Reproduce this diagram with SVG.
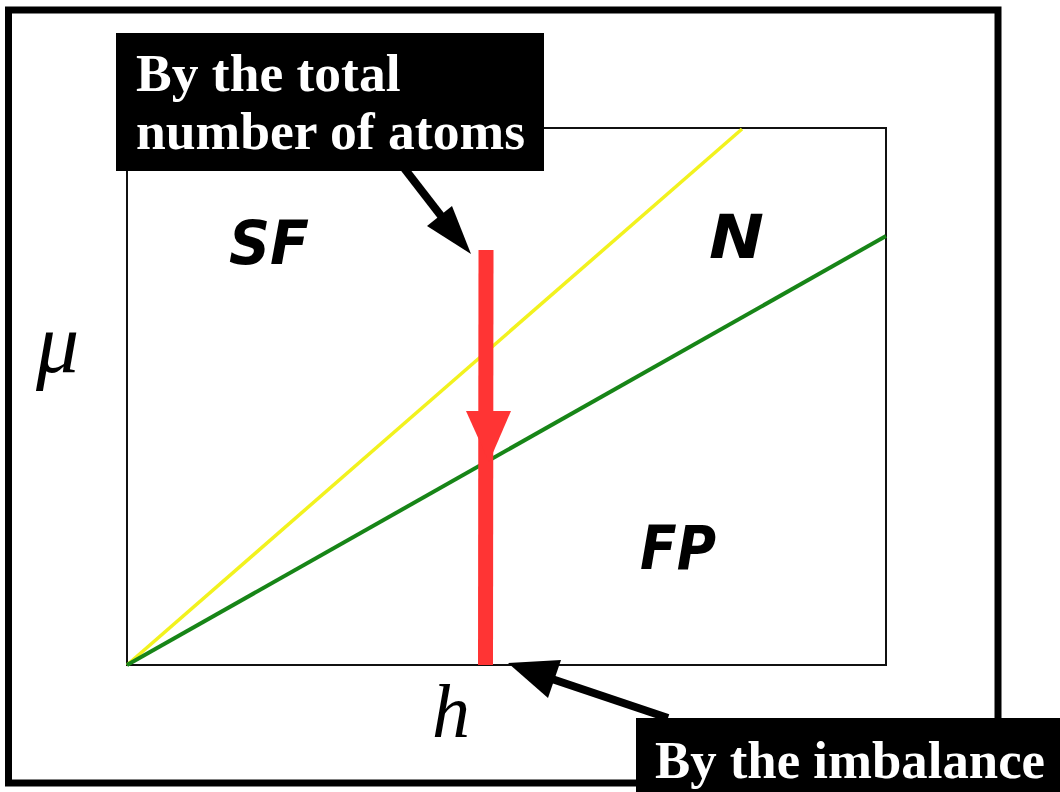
<svg xmlns="http://www.w3.org/2000/svg" width="1060" height="792" viewBox="0 0 1060 792">
<defs>
<style>
.callout{fill:#000}
.ctext{font-family:"Liberation Serif","Times New Roman",serif;font-weight:bold;font-size:53.5px;fill:#fff}
.region{font-family:"DejaVu Sans",sans-serif;font-weight:bold;font-style:oblique;font-size:60px;fill:#000}
.math{font-family:"Liberation Serif","Times New Roman",serif;font-style:italic;font-size:76px;fill:#000}
.arrow{stroke:#000;stroke-width:8;fill:none}
.head{fill:#000}
</style>
</defs>
<rect width="1060" height="792" fill="#fff"/>
<g id="frame"><rect x="8.5" y="10" width="989.5" height="773" fill="none" stroke="#000" stroke-width="7"/></g>
<g id="plot">
<rect x="127" y="128" width="759" height="537" fill="none" stroke="#111" stroke-width="2"/>
<line x1="127" y1="665" x2="742" y2="129" stroke="#f2f21e" stroke-width="3.5"/>
<line x1="127" y1="665" x2="886" y2="236" stroke="#178517" stroke-width="4"/>
</g>
<g id="region-SF"><text class="region" x="229" y="264" textLength="80" lengthAdjust="spacingAndGlyphs">SF</text></g>
<g id="region-N"><text class="region" x="709" y="258" textLength="55" lengthAdjust="spacingAndGlyphs">N</text></g>
<g id="region-FP"><text class="region" x="640" y="569" textLength="76" lengthAdjust="spacingAndGlyphs">FP</text></g>
<g id="axis-mu"><text class="math" x="36" y="372" style="font-size:86px">μ</text></g>
<g id="axis-h"><text class="math" x="432" y="737">h</text></g>
<g id="path-red">
<polygon points="478.5,250 493.5,250 493,665 478,665" fill="#ff3434"/>
<polygon points="466,411 511,411 489,462" fill="#ff3434"/>
</g>
<g id="callout-total">
<rect class="callout" x="116" y="33" width="428" height="138"/>
<text class="ctext" x="136" y="91">By the total</text>
<text class="ctext" x="136" y="149" textLength="389" lengthAdjust="spacingAndGlyphs">number of atoms</text>
</g>
<g id="callout-imbalance">
<rect class="callout" x="636" y="718" width="424" height="74"/>
<text class="ctext" x="655" y="778" textLength="390" lengthAdjust="spacingAndGlyphs">By the imbalance</text>
</g>
<g id="connectors">
<line class="arrow" x1="404" y1="168" x2="445" y2="221"/>
<polygon class="head" points="471,254 427,226 452,206"/>
<line class="arrow" x1="668" y1="718" x2="552" y2="679"/>
<polygon class="head" points="508,663 561,660 548,698"/>
</g>
</svg>
